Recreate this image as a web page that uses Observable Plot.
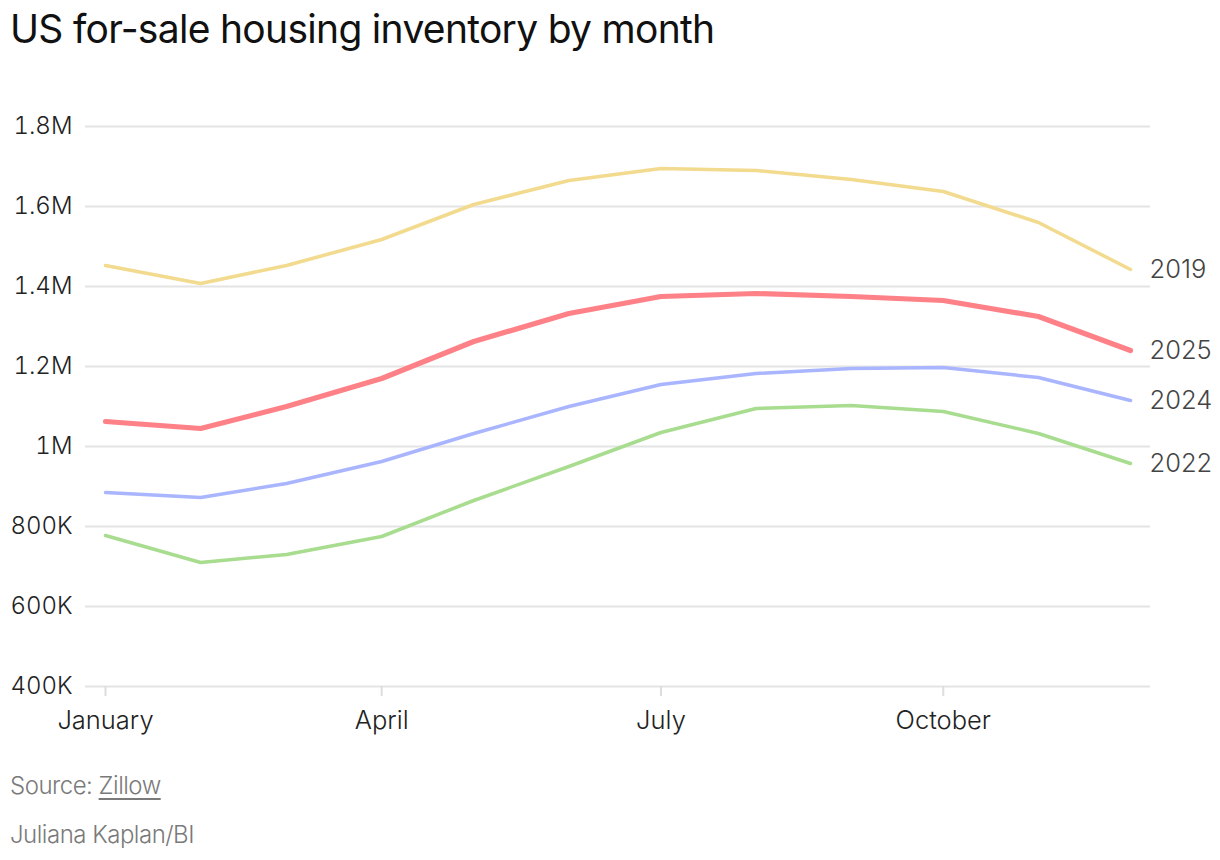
<!DOCTYPE html>
<html>
<head>
<meta charset="utf-8">
<script src="https://cdn.jsdelivr.net/npm/d3@7"></script>
<script src="https://cdn.jsdelivr.net/npm/@observablehq/plot@0.6"></script>
<style>
  body { margin: 0; background: #fff; font-family: Inter, Roboto, sans-serif; }
  #wrap { width: 1220px; position: relative; }
  h1 { margin: 0; padding: 5px 0 0 10px; height: 70px; box-sizing: border-box; font-weight: 400; font-size: 39px; letter-spacing: -0.7px; color: #111; }
  .foot { padding-left: 10px; color: #7a7a7a; font-size: 24px; font-weight: 300; letter-spacing: -0.5px; line-height: 28px; }
  .foot a { color: #7a7a7a; text-decoration: underline; text-underline-offset: 4px; }
  svg text { font-family: Inter, Roboto, sans-serif; }
</style>
</head>
<body>
<div id="wrap">
  <h1>US for-sale housing inventory by month</h1>
  <div id="chart"></div>
  <div class="foot" style="margin-top:22px;">Source: <a>Zillow</a></div>
  <div class="foot" style="margin-top:21px;">Juliana Kaplan/BI</div>
</div>
<script>
const months = ["2025-01-01","2025-02-01","2025-03-01","2025-04-01","2025-05-01","2025-06-01","2025-07-01","2025-08-01","2025-09-01","2025-10-01","2025-11-01","2025-12-01"];
const years = ["2019", "2025", "2024", "2022"];
const values2019 = [1452500, 1407500, 1452500, 1517500, 1605000, 1665000, 1695000, 1690000, 1667500, 1637500, 1560000, 1442500];
const values2025 = [1062500, 1045000, 1100000, 1170000, 1262500, 1332500, 1375000, 1382500, 1375000, 1365000, 1325000, 1240000];
const values2024 = [885000, 872500, 907500, 962500, 1032500, 1100000, 1155000, 1182500, 1195000, 1197500, 1172500, 1115000];
const values2022 = [777500, 710000, 730000, 775000, 865000, 950000, 1035000, 1095000, 1102500, 1087500, 1032500, 957500];
const yTicks = [400000, 600000, 800000, 1000000, 1200000, 1400000, 1600000, 1800000];
const xTicks = ["2025-01-01", "2025-04-01", "2025-07-01", "2025-10-01"];
const colors = {"2019": "#f2da8e", "2025": "#fe8187", "2024": "#a9b5ff", "2022": "#a8dc8f"};
const widths = {"2019": 3.5, "2025": 5.2, "2024": 3.5, "2022": 3.5};

const seriesValues = {"2019": values2019, "2025": values2025, "2024": values2024, "2022": values2022};
const parse = d3.utcParse("%Y-%m-%d");
const data = years.flatMap(y => seriesValues[y].map((v, i) => ({year: y, date: parse(months[i]), value: v})));
const lastPoints = years.map(y => ({year: y, date: parse(months[months.length - 1]), value: seriesValues[y][seriesValues[y].length - 1]}));

const fmtY = d => d >= 1e6 ? (d / 1e6) + "M" : (d / 1e3) + "K";
const fmtX = d3.utcFormat("%B");

const chart = Plot.plot({
  width: 1220,
  height: 680,
  marginTop: 56,
  marginBottom: 64,
  marginLeft: 85,
  marginRight: 70,
  insetLeft: 20,
  insetRight: 20,
  style: {fontSize: "24px", color: "#222", background: "#fff", overflow: "visible", fontWeight: 300},
  x: {type: "utc", domain: [parse(months[0]), parse(months[months.length - 1])]},
  y: {domain: [400000, 1800000]},
  marks: [
    Plot.ruleY(yTicks, {stroke: "#e4e4e4", strokeWidth: 2}),
    Plot.axisY({ticks: yTicks, tickFormat: fmtY, tickSize: 0, tickPadding: 13, fill: "#222", fontSize: 24, label: null, style: {letterSpacing: "-0.6px"}}),
    Plot.axisX({ticks: xTicks.map(parse), tickFormat: fmtX, tickSize: 10, tickPadding: 14, stroke: "#dddddd", strokeWidth: 2, fill: "#222", fontSize: 25.5, label: null}),
    ...years.slice().reverse().map(y => Plot.line(data.filter(d => d.year === y), {
      x: "date", y: "value", stroke: colors[y], strokeWidth: widths[y], strokeLinecap: "round", strokeLinejoin: "round"
    })),
    Plot.text(lastPoints, {x: "date", y: "value", text: "year", textAnchor: "start", dx: 19, fill: "#444", fontSize: 25.5})
  ]
});
document.getElementById("chart").appendChild(chart);
</script>
</body>
</html>
